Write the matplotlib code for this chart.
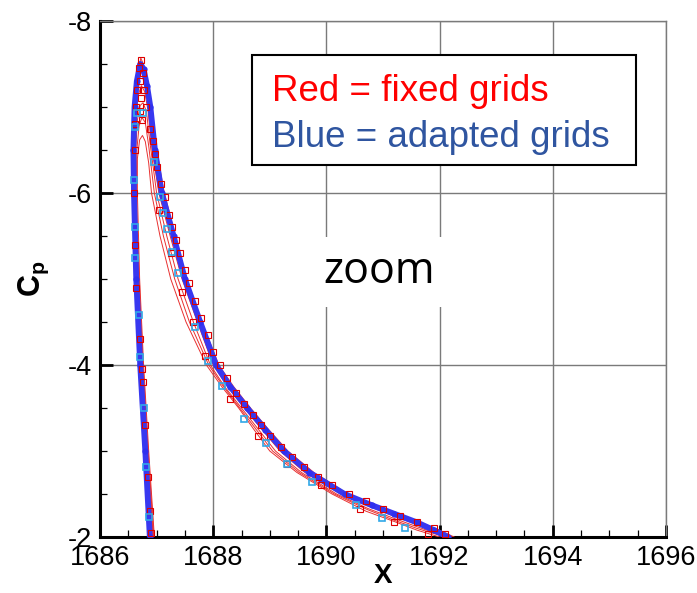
import matplotlib
matplotlib.use("Agg")
import matplotlib.pyplot as plt
from matplotlib.patches import Rectangle

plt.rcParams['font.family'] = ['Liberation Sans', 'DejaVu Sans']
plt.rcParams['mathtext.fontset'] = 'custom'
plt.rcParams['mathtext.bf'] = 'Liberation Sans:bold'
plt.rcParams['mathtext.rm'] = 'Liberation Sans'
plt.rcParams['axes.unicode_minus'] = False

# adapted grid solution (blue band), left branch -> peak -> right branch
blue_x = [1686.88, 1686.80, 1686.71, 1686.64, 1686.60, 1686.59, 1686.61, 1686.65,
          1686.71, 1686.77, 1686.83, 1686.89, 1686.97, 1687.09, 1687.30, 1687.50,
          1687.77, 1688.05, 1688.30, 1688.60, 1688.92, 1689.25, 1689.70, 1690.32,
          1690.80, 1691.20, 1691.60, 1691.90, 1692.15]
blue_cp = [-2.0, -3.0, -4.0, -5.0, -6.0, -6.5, -7.0, -7.3,
           -7.5, -7.44, -7.25, -7.0, -6.5, -6.0, -5.5, -5.0,
           -4.5, -4.0, -3.75, -3.5, -3.25, -3.0, -2.75, -2.5,
           -2.37, -2.27, -2.17, -2.08, -2.0]

# fixed grid solutions (thin red lines)
red1_x = [1686.92, 1686.82, 1686.72, 1686.65, 1686.61, 1686.60, 1686.62, 1686.66,
          1686.72, 1686.78, 1686.84, 1686.90, 1686.99, 1687.12, 1687.33, 1687.53,
          1687.80, 1688.10, 1688.36, 1688.66, 1688.98, 1689.32, 1689.78, 1690.38,
          1690.88, 1691.30, 1691.70, 1692.00, 1692.32]
red1_cp = [-2.0, -3.0, -4.0, -5.0, -6.0, -6.5, -7.0, -7.35,
           -7.57, -7.48, -7.3, -7.05, -6.55, -6.05, -5.5, -5.0,
           -4.5, -4.0, -3.75, -3.5, -3.25, -3.0, -2.75, -2.5,
           -2.37, -2.26, -2.16, -2.08, -1.98]

red2_x = [1686.93, 1686.83, 1686.74, 1686.67, 1686.62, 1686.61, 1686.63, 1686.68,
          1686.73, 1686.79, 1686.85, 1686.92, 1687.04, 1687.24, 1687.45,
          1687.72, 1688.00, 1688.25, 1688.55, 1688.86, 1689.18, 1689.62, 1690.25,
          1690.78, 1691.20, 1691.62, 1691.95, 1692.30]
red2_cp = [-2.0, -3.0, -4.0, -5.0, -6.0, -6.5, -6.9, -7.15,
           -7.25, -7.18, -6.95, -6.5, -6.0, -5.5, -5.0,
           -4.5, -4.0, -3.75, -3.5, -3.25, -3.0, -2.75, -2.5,
           -2.35, -2.24, -2.14, -2.06, -1.98]

red3_x = [1686.94, 1686.84, 1686.75, 1686.68, 1686.63, 1686.63, 1686.66, 1686.71,
          1686.76, 1686.82, 1686.88, 1687.00, 1687.18, 1687.38,
          1687.65, 1687.95, 1688.20, 1688.50, 1688.80, 1689.10, 1689.56, 1690.18,
          1690.74, 1691.18, 1691.60, 1691.95, 1692.30]
red3_cp = [-2.0, -3.0, -4.0, -5.0, -6.0, -6.5, -6.85, -7.02,
           -7.05, -6.95, -6.6, -6.0, -5.5, -5.0,
           -4.5, -4.0, -3.75, -3.5, -3.25, -3.0, -2.75, -2.5,
           -2.33, -2.22, -2.12, -2.04, -1.97]

red4_x = [1686.95, 1686.85, 1686.76, 1686.69, 1686.64, 1686.65, 1686.69, 1686.74,
          1686.80, 1686.86, 1686.96, 1687.12, 1687.32,
          1687.58, 1687.92, 1688.18, 1688.47, 1688.76, 1689.05, 1689.52, 1690.14,
          1690.72, 1691.18, 1691.60, 1692.00, 1692.32]
red4_cp = [-2.0, -3.0, -4.0, -5.0, -6.0, -6.5, -6.78, -6.88,
           -6.82, -6.55, -6.0, -5.5, -5.0,
           -4.5, -4.0, -3.75, -3.5, -3.25, -3.0, -2.75, -2.5,
           -2.32, -2.2, -2.1, -2.02, -1.96]

red5_x = [1686.96, 1686.86, 1686.77, 1686.70, 1686.66, 1686.66, 1686.70, 1686.75,
          1686.80, 1686.86, 1686.91, 1687.06, 1687.25,
          1687.52, 1687.88, 1688.15, 1688.45, 1688.72, 1689.00, 1689.48, 1690.10,
          1690.70, 1691.20, 1691.60, 1692.05, 1692.35]
red5_cp = [-2.0, -3.0, -4.0, -5.0, -6.0, -6.4, -6.62, -6.67,
           -6.6, -6.35, -6.0, -5.5, -5.0,
           -4.5, -4.0, -3.75, -3.5, -3.25, -3.0, -2.75, -2.5,
           -2.3, -2.18, -2.08, -1.99, -1.94]

# hollow red squares (fixed grid points)
sq_x = [1686.72, 1686.68, 1686.76, 1686.70, 1686.66, 1686.78, 1686.72, 1686.64, 1686.82,
        1686.70, 1686.75, 1686.62, 1686.88, 1686.93, 1686.97, 1687.00, 1687.08, 1687.15,
        1687.22, 1687.28, 1687.35, 1687.42, 1687.50, 1687.58, 1687.68, 1687.78, 1687.90,
        1688.00, 1688.12, 1688.25, 1688.40, 1688.55, 1688.70, 1688.85, 1689.00, 1689.20,
        1689.40, 1689.60, 1689.85, 1690.10, 1690.40, 1690.70, 1691.00, 1691.30, 1691.60,
        1691.90, 1692.10, 1688.80, 1689.30, 1689.90, 1690.60, 1691.20, 1691.80, 1688.30,
        1687.85, 1686.62, 1686.60, 1686.62, 1686.64, 1686.70, 1686.74, 1686.76, 1686.80,
        1686.84, 1686.88, 1686.90, 1687.05, 1687.25, 1687.45, 1687.65]
sq_cp = [-7.55, -7.45, -7.40, -7.30, -7.20, -7.20, -7.10, -7.00, -7.00,
         -6.95, -6.85, -6.80, -6.75, -6.60, -6.45, -6.30, -6.10, -5.95,
         -5.75, -5.60, -5.45, -5.30, -5.10, -4.95, -4.75, -4.55, -4.35,
         -4.15, -4.00, -3.85, -3.68, -3.55, -3.42, -3.30, -3.18, -3.05,
         -2.93, -2.82, -2.70, -2.60, -2.50, -2.42, -2.33, -2.25, -2.17,
         -2.10, -2.04, -3.18, -2.85, -2.60, -2.33, -2.17, -2.04, -3.60,
         -4.10, -6.50, -6.00, -5.40, -4.90, -4.30, -3.95, -3.80, -3.30,
         -2.70, -2.30, -2.05, -5.80, -5.30, -4.85, -4.50]

# light blue squares
cy_x = [1686.65, 1686.76, 1686.95, 1687.06, 1686.62, 1686.60, 1686.62, 1686.61,
        1687.12, 1687.18, 1687.27, 1687.38, 1686.68, 1686.71, 1686.78, 1686.81,
        1686.87, 1687.67, 1687.90, 1688.15, 1688.54, 1688.93, 1689.31, 1689.74,
        1690.53, 1690.98, 1691.39]
cy_cp = [-6.93, -6.93, -6.36, -5.95, -6.77, -6.15, -5.60, -5.25,
         -5.77, -5.58, -5.31, -5.07, -4.58, -4.09, -3.50, -2.81,
         -2.23, -4.44, -4.05, -3.76, -3.37, -3.09, -2.85, -2.64,
         -2.37, -2.22, -2.10]

x_ticks = [1686, 1688, 1690, 1692, 1694, 1696]
y_ticks = [-8, -6, -4, -2]

fig = plt.figure(figsize=(6.97, 5.93), dpi=100)
ax = fig.add_axes([0.1435, 0.0944, 0.812, 0.870])

red_lines = [(red1_x, red1_cp), (red2_x, red2_cp), (red3_x, red3_cp),
             (red4_x, red4_cp), (red5_x, red5_cp)]
for xs, cs in red_lines:
    ax.plot(xs, cs, color='#e83030', lw=0.7, zorder=3)

ax.plot(blue_x, blue_cp, color='#3838f0', lw=4.2, solid_capstyle='butt', zorder=4)
ax.plot(blue_x, blue_cp, 'o', color='#3030ee', ms=4.5, mew=0, zorder=4)
ax.plot(sq_x, sq_cp, 's', mfc='none', mec='#dd0000', ms=3.8, mew=0.8, zorder=5)
ax.plot(cy_x, cy_cp, 's', mfc='none', mec='#30a8e8', ms=3.8, mew=1.2, zorder=6)

ax.set_xlim(1686, 1696)
ax.set_ylim(-2, -8)
ax.set_xticks(x_ticks)
ax.set_yticks(y_ticks)
ax.set_xticks([1686 + 0.5 * i for i in range(21)], minor=True)
ax.set_yticks([-8 + 0.5 * i for i in range(13)], minor=True)
ax.grid(True, which='major', color='#7a7a7a', lw=1.0, zorder=1)
ax.set_axisbelow(True)

ax.tick_params(which='major', direction='in', length=9, width=2.0, labelsize=19.5, pad=6)
ax.tick_params(which='minor', direction='in', length=5, width=0.9)
ax.tick_params(top=False, right=False, which='both')
for s in ['left', 'bottom']:
    ax.spines[s].set_linewidth(2.2)
for s in ['top', 'right']:
    ax.spines[s].set_linewidth(1.0)
    ax.spines[s].set_color('#7a7a7a')

ax.set_xlabel('X', fontsize=20, fontweight='bold', labelpad=-6)
ax.set_ylabel(r'$\mathbf{C_p}$', fontsize=22, labelpad=12)

# legend box drawn as text
ax.add_patch(Rectangle((0.2686, 0.721), 0.678, 0.213, transform=ax.transAxes,
                       facecolor='white', edgecolor='black', lw=1.5, zorder=7))
ax.text(0.304, 0.8455, 'Red = fixed grids', color='#ff0000', fontsize=26.5,
        transform=ax.transAxes, va='baseline', zorder=8)
ax.text(0.304, 0.756, 'Blue = adapted grids', color='#2f55a0', fontsize=26.5,
        transform=ax.transAxes, va='baseline', zorder=8)

ax.text(0.493, 0.492, 'zoom', fontsize=31, family=['Open Sans', 'DejaVu Sans'],
        transform=ax.transAxes, ha='center', va='baseline', zorder=8,
        bbox=dict(boxstyle='square,pad=0.3', facecolor='white', edgecolor='none'))

fig.savefig('out.png', dpi=100)
